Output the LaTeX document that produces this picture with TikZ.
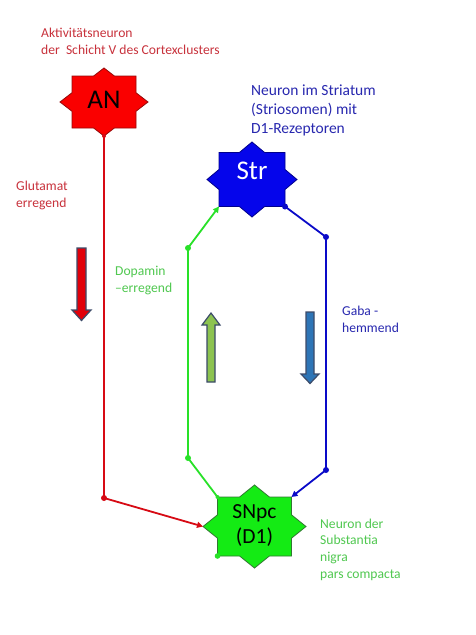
\documentclass[tikz,border=0pt]{standalone}
\usepackage{fontspec}
\setmainfont{Carlito}
\usetikzlibrary{arrows.meta}
\definecolor{labred}{RGB}{200,50,60}
\definecolor{labblue}{RGB}{40,40,175}
\definecolor{labgreen}{RGB}{80,200,80}
\definecolor{linered}{RGB}{215,10,20}
\definecolor{linegreen}{RGB}{40,225,40}
\definecolor{lineblue}{RGB}{10,10,200}
\definecolor{anfill}{RGB}{250,0,0}
\definecolor{andraw}{RGB}{150,10,10}
\definecolor{strfill}{RGB}{5,5,235}
\definecolor{strdraw}{RGB}{0,0,140}
\definecolor{snfill}{RGB}{20,235,20}
\definecolor{sndraw}{RGB}{50,120,50}
\definecolor{arrout}{RGB}{60,75,105}
\definecolor{arrred}{RGB}{225,0,10}
\definecolor{arrgreen}{RGB}{140,195,80}
\definecolor{arrblue}{RGB}{46,117,182}
\newcommand\neuronstar[8]{%
  \pgfmathsetmacro\nsxi{#4*(1-#7/#5)}%
  \pgfmathsetmacro\nsyi{#5*(1-#6/#4)}%
  \path[#8] (#2,{#3-#5}) -- ({#2+\nsxi},{#3-#7}) -- ({#2+#6},{#3-#7}) -- ({#2+#6},{#3-\nsyi})
    -- ({#2+#4},#3) -- ({#2+#6},{#3+\nsyi}) -- ({#2+#6},{#3+#7}) -- ({#2+\nsxi},{#3+#7})
    -- (#2,{#3+#5}) -- ({#2-\nsxi},{#3+#7}) -- ({#2-#6},{#3+#7}) -- ({#2-#6},{#3+\nsyi})
    -- ({#2-#4},#3) -- ({#2-#6},{#3-\nsyi}) -- ({#2-#6},{#3-#7}) -- ({#2-\nsxi},{#3-#7}) -- cycle;
  \coordinate (#1-n) at (#2,{#3-#5});
  \coordinate (#1-s) at (#2,{#3+#5});
  \coordinate (#1-w) at ({#2-#4},#3);
  \coordinate (#1-e) at ({#2+#4},#3);
  \coordinate (#1-nw) at ({#2-#6},{#3-#7});
  \coordinate (#1-ne) at ({#2+#6},{#3-#7});
  \coordinate (#1-sw) at ({#2-#6},{#3+#7});
  \coordinate (#1-se) at ({#2+#6},{#3+#7});
}
\tikzset{
  x=1pt, y=-1pt,
  lbl/.style={font=\fontsize{13.6}{16.6}\selectfont, align=left, inner sep=0pt, anchor=base west},
  biglbl/.style={font=\fontsize{15.5}{18.6}\selectfont, align=left, inner sep=0pt, anchor=base west},
  startext/.style={inner sep=0pt, align=center},
  conn/.style={line width=1.8pt, -{Triangle[length=6pt,width=6pt]}},
  blockarrow/.style={draw=arrout, line width=1.2pt, line join=miter},
}
\begin{document}
\begin{tikzpicture}
\fill[white] (0,0) rectangle (476,635);
\useasboundingbox (0,0) rectangle (476,635);

% stars
\neuronstar{AN}{104}{102}{44}{34}{32}{26}{fill=anfill, draw=andraw, line width=0.8pt}
\neuronstar{Str}{252}{179.5}{45}{37.5}{33}{27}{fill=strfill, draw=strdraw, line width=0.8pt}
\neuronstar{SN}{254.5}{526.5}{51.5}{41.5}{37}{29.5}{fill=snfill, draw=sndraw, line width=0.8pt}

\node[startext, font=\fontsize{27}{32}\selectfont, anchor=base] (AN) at (104,108.5) {AN};
\node[startext, font=\fontsize{27}{32}\selectfont, text=white, anchor=base] (Str) at (252,179.5) {Str};
\node[startext, font=\fontsize{21.5}{25}\selectfont, anchor=base] (SNpc) at (254.5,543) {SNpc\\(D1)};

% bend points
\coordinate (rb) at (104,498);
\coordinate (gb1) at (188,458);
\coordinate (gb2) at (188,248);
\coordinate (bb1) at (326,237);
\coordinate (bb2) at (326,470);

% connectors
\draw[conn, linered] (AN-s) -- (rb) -- (SN-w);
\draw[conn, linegreen] (SN-nw) -- (gb1) -- (gb2) -- (Str-sw);
\draw[conn, lineblue] (Str-se) -- (bb1) -- (bb2) -- (SN-ne);
\fill[linered] (rb) circle (3) (AN-s) circle (2);
\fill[linegreen] (gb1) circle (3) (gb2) circle (3) (SN-sw) circle (2.8) (SN-nw) circle (2);
\fill[lineblue] (Str-se) circle (3) (bb1) circle (3) (bb2) circle (3);

% block arrows
\draw[blockarrow, fill=arrred] (77,248) -- (86,248) -- (86,310) -- (91,310) -- (81.5,320.5) -- (72,310) -- (77,310) -- cycle;
\draw[blockarrow, fill=arrgreen] (207,382) -- (215,382) -- (215,325) -- (220,325) -- (211,313) -- (202,325) -- (207,325) -- cycle;
\draw[blockarrow, fill=arrblue] (306,312) -- (314,312) -- (314,374) -- (319,374) -- (310,383.5) -- (301,374) -- (306,374) -- cycle;

% labels (base anchor = baseline of the last line)
\node[lbl, text=labred] (lAN) at (41,54.5) {Aktivitätsneuron\\der~ Schicht V des Cortexclusters};
\node[lbl, text=labred] (lGlu) at (16,207) {Glutamat\\erregend};
\node[biglbl, text=labblue] (lStr) at (251,133) {Neuron im Striatum\\(Striosomen) mit\\D1-Rezeptoren};
\node[lbl, text=labgreen] (lDop) at (115,292) {Dopamin\\–erregend};
\node[lbl, text=labblue] (lGaba) at (342,332) {Gaba -\\hemmend};
\node[lbl, text=labgreen] (lSN) at (320,578) {Neuron der\\Substantia\\nigra\\pars compacta};
\end{tikzpicture}
\end{document}
